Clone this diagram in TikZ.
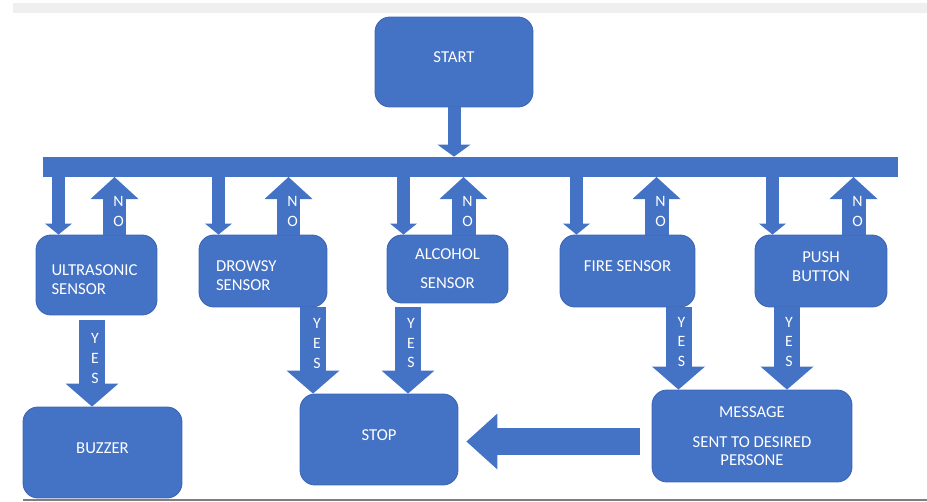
\documentclass[tikz,border=0pt]{standalone}
\usepackage{fontspec}
\setmainfont{Carlito}
\usetikzlibrary{arrows.meta}
\definecolor{boxblue}{HTML}{4472C4}
\definecolor{boxedge}{HTML}{3C66B4}
\definecolor{topgray}{HTML}{EFEFEF}
\definecolor{linegray}{HTML}{7F7F7F}
\tikzset{
  blk/.style={fill=boxblue, draw=boxedge, line width=0.5pt, rounded corners=0.3cm,
    text=white, font=\fontsize{9.5}{10.5}\selectfont, inner sep=0pt, text depth=0.18cm},
  yn/.style={text=white, font=\fontsize{9}{11.3}\selectfont, align=center, inner sep=0pt},
  start arrow/.style={draw=boxblue, line width=0.26cm,
    -{Triangle[width=0.66cm,length=0.24cm,line width=0pt]}},
  thin arrow/.style={draw=boxblue, line width=0.26cm,
    -{Triangle[width=0.54cm,length=0.22cm,line width=0pt]}},
  no arrow/.style={draw=boxblue, line width=0.48cm,
    -{Triangle[width=0.96cm,length=0.44cm,line width=0pt]}},
  yes arrow/.style={draw=boxblue, line width=0.52cm,
    -{Triangle[width=1.06cm,length=0.46cm,line width=0pt]}},
  back arrow/.style={draw=boxblue, line width=0.54cm,
    -{Triangle[width=1.12cm,length=0.62cm,line width=0pt]}}
}
\begin{document}
\begin{tikzpicture}[x=0.02cm, y=-0.02cm]
\useasboundingbox (0,0) rectangle (927,501);
%frame
\fill[topgray] (13,3) rectangle (927,13);
\fill[linegray] (23,499) rectangle (927,501);
%start and bus
\node[blk, minimum width=3.16cm, minimum height=1.8cm] (start) at (454,62) {START};
\node[fill=boxblue, inner sep=0pt, minimum width=17.1cm, minimum height=0.4cm] (bar) at (470.5,167) {};
%sensors
\node[blk, minimum width=2.42cm, minimum height=1.6cm, align=left, text width=1.8cm] (ultra) at (96.5,275) {ULTRASONIC\\SENSOR};
\node[blk, minimum width=2.56cm, minimum height=1.44cm, align=left, text width=1.88cm] (drowsy) at (263,271) {DROWSY\\SENSOR};
\node[blk, minimum width=2.42cm, minimum height=1.36cm, align=center, text depth=0pt] (alcohol) at (447.5,269) {ALCOHOL\\[6pt]SENSOR};
\node[blk, minimum width=2.7cm, minimum height=1.44cm] (fire) at (627.5,271) {FIRE SENSOR};
\node[blk, minimum width=2.64cm, minimum height=1.44cm, align=center] (push) at (821,271) {PUSH\\BUTTON};
%outputs
\node[blk, minimum width=3.18cm, minimum height=1.82cm] (buzzer) at (102.5,452.5) {BUZZER};
\node[blk, minimum width=3.16cm, minimum height=1.82cm] (stop) at (379,439.5) {STOP};
\node[blk, minimum width=4cm, minimum height=1.84cm, align=center, text depth=0pt] (msg) at (752,436) {MESSAGE\\[6.5pt]SENT TO DESIRED\\PERSONE};
%columns
\coordinate (d1) at (58.5,177);
\coordinate (d2) at (218.5,177);
\coordinate (d3) at (403.5,177);
\coordinate (d4) at (576.5,177);
\coordinate (d5) at (772.5,177);
\coordinate (n1) at (114.5,177);
\coordinate (n2) at (288.5,177);
\coordinate (n3) at (463.5,177);
\coordinate (n4) at (656.5,177);
\coordinate (n5) at (853.5,177);
\coordinate (y1) at (92,0);
\coordinate (y2) at (313,0);
\coordinate (y3) at (408,0);
\coordinate (y4) at (678.5,0);
\coordinate (y5) at (787,0);
\coordinate (ly) at (0,441.5);
%start to bus
\draw[start arrow] (start.south) -- (start.south |- bar.north);
%bus to sensors
\draw[thin arrow] (d1) -- (d1 |- ultra.north);
\draw[thin arrow] (d2) -- (d2 |- drowsy.north);
\draw[thin arrow] (d3) -- (d3 |- alcohol.north);
\draw[thin arrow] (d4) -- (d4 |- fire.north);
\draw[thin arrow] (d5) -- (d5 |- push.north);
%NO back to bus
\draw[no arrow] (n1 |- ultra.north) -- (n1) node[yn, pos=0.4, xshift=0.08cm] (no1) {N\\O};
\draw[no arrow] (n2 |- drowsy.north) -- (n2) node[yn, pos=0.4, xshift=0.08cm] (no2) {N\\O};
\draw[no arrow] (n3 |- alcohol.north) -- (n3) node[yn, pos=0.4, xshift=0.08cm] (no3) {N\\O};
\draw[no arrow] (n4 |- fire.north) -- (n4) node[yn, pos=0.4, xshift=0.08cm] (no4) {N\\O};
\draw[no arrow] (n5 |- push.north) -- (n5) node[yn, pos=0.4, xshift=0.08cm] (no5) {N\\O};
%YES
\draw[yes arrow, shorten <=0.1cm] (ultra.south -| y1) -- (buzzer.north -| y1) node[yn, pos=0.47, xshift=0.06cm] (yes1) {Y\\E\\S};
\draw[yes arrow] (drowsy.south -| y2) -- (stop.north -| y2) node[yn, pos=0.42, xshift=0.08cm] (yes2) {Y\\E\\S};
\draw[yes arrow, shorten <=0.08cm] (alcohol.south -| y3) -- (stop.north -| y3) node[yn, pos=0.44, xshift=0.06cm] (yes3) {Y\\E\\S};
\draw[yes arrow] (fire.south -| y4) -- (msg.north -| y4) node[yn, pos=0.42, xshift=0.06cm] (yes4) {Y\\E\\S};
\draw[yes arrow] (push.south -| y5) -- (msg.north -| y5) node[yn, pos=0.42, xshift=0.04cm] (yes5) {Y\\E\\S};
%message to stop
\draw[back arrow, shorten <=0.24cm, shorten >=0.16cm] (msg.west |- ly) -- (stop.east |- ly);
\end{tikzpicture}
\end{document}
